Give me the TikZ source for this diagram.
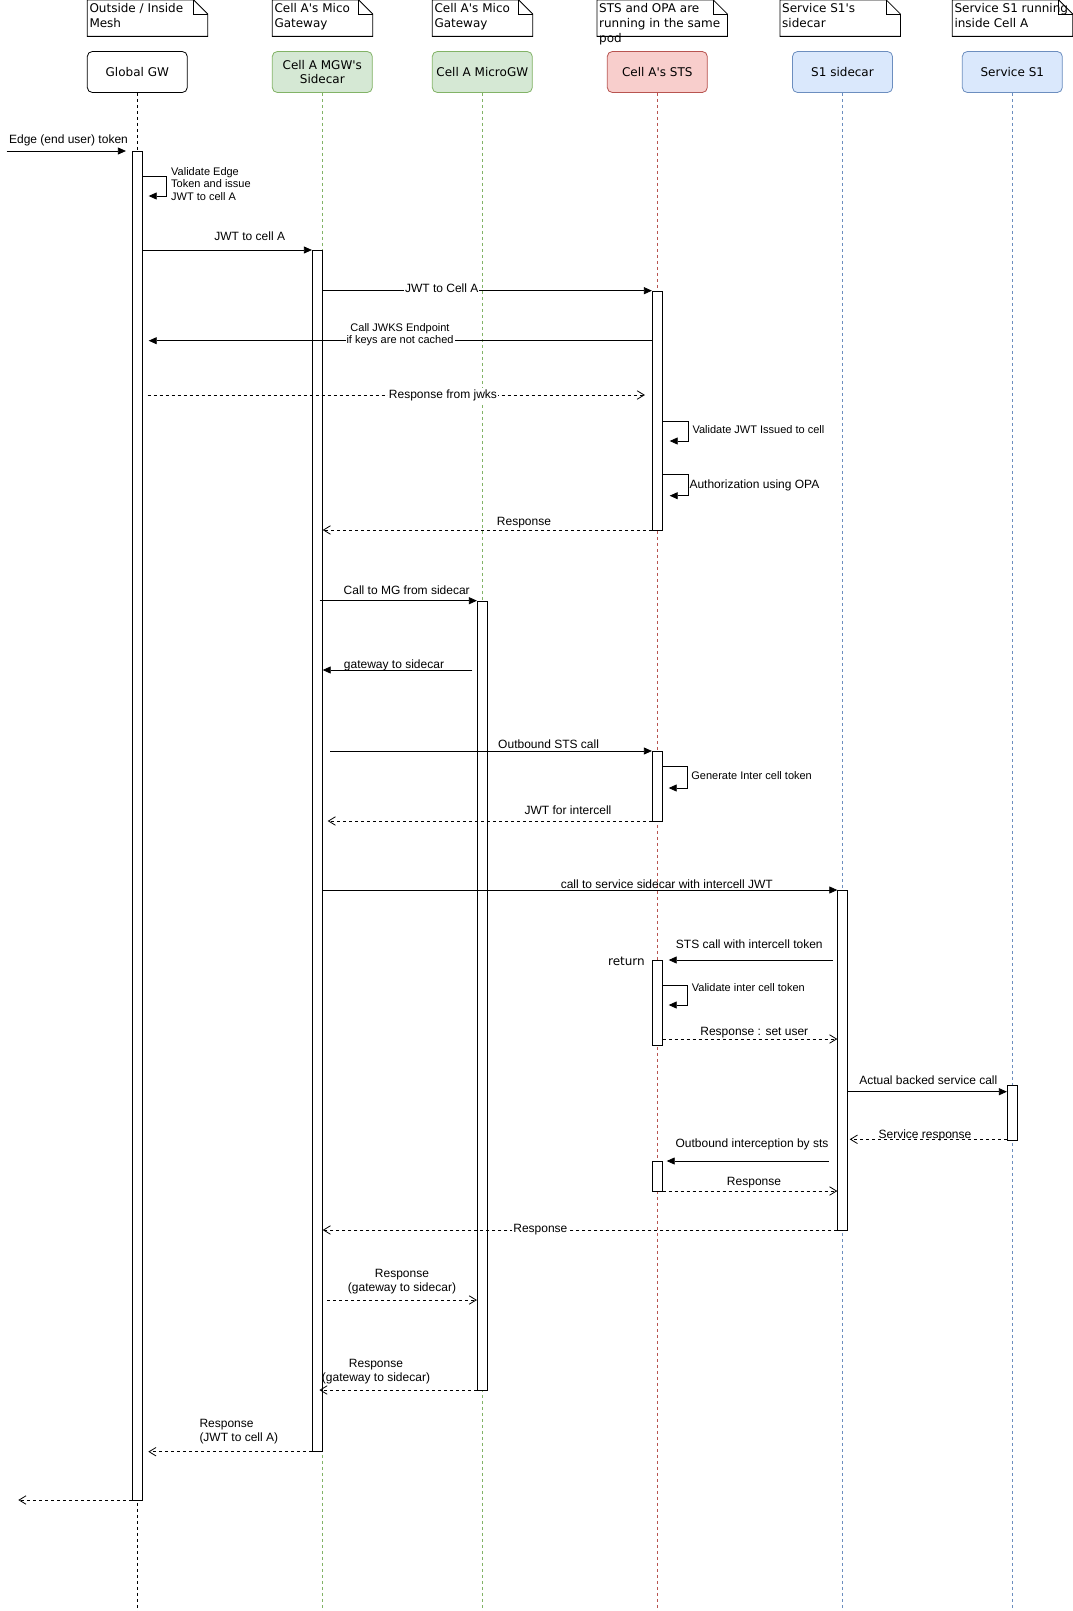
\documentclass[tikz,border=0pt]{standalone}
\usepackage{fontspec}
\setmainfont{Liberation Sans}
\newfontfamily\dvs{DejaVu Sans}[Ligatures=TeXOff]
\usetikzlibrary{arrows.meta}
\definecolor{gfill}{HTML}{D5E8D4}
\definecolor{gline}{HTML}{82B366}
\definecolor{rfill}{HTML}{F8CECC}
\definecolor{rline}{HTML}{B85450}
\definecolor{bfill}{HTML}{DAE8FC}
\definecolor{bline}{HTML}{6C8EBF}
\begin{document}
\begin{tikzpicture}[x=1pt,y=-1pt,
  lw/.style={line width=0.8pt},
  head/.style={draw, lw, rounded corners=5pt, minimum width=100pt, minimum height=41pt, inner sep=0pt, align=center, font=\dvs\fontsize{12}{14.5}\selectfont},
  notebg/.style={minimum width=#1, minimum height=36pt, inner sep=0pt, anchor=north west},
  noteline/.style={draw, lw},
  notetext/.style={anchor=north west, inner sep=0pt, align=left, font=\dvs\fontsize{12}{14.6}\selectfont},
  lline/.style={lw, dash pattern=on 3pt off 3pt},
  bar/.style={draw, lw, fill=white, minimum width=10pt, inner sep=0pt, anchor=north},
  msg/.style={draw, lw, -{Triangle[length=8pt,width=7pt]}},
  ret/.style={draw, lw, dash pattern=on 3pt off 3pt, -{Straight Barb[length=7pt,width=8.5pt]}},
  lbl/.style={inner sep=1pt, font=\fontsize{12}{14}\selectfont},
  lblw/.style={lbl, fill=white},
  lbls/.style={inner sep=0pt, align=left, font=\fontsize{11}{12.5}\selectfont},
  lblsw/.style={inner sep=1pt, align=center, fill=white, font=\fontsize{11}{12.7}\selectfont},
  ret2/.style={inner sep=0pt, align=center, font=\fontsize{12}{14}\selectfont},
  dv/.style={inner sep=0pt, font=\dvs\fontsize{12}{14.5}\selectfont}
]
\useasboundingbox (0,0) rectangle (1073,1611);
\fill[white] (0,0) rectangle (1073,1611);
\coordinate (bot) at (0,1611);

% notes
\foreach \nm/\xx/\ww/\txt in {n1/87.3/120/{Outside / Inside\\Mesh}, n2/272.3/100/{Cell A's Mico\\Gateway}, n3/432.3/100/{Cell A's Mico\\Gateway}, n4/597/130/{STS and OPA are\\running in the same\\pod}, n5/780/120/{Service S1's\\sidecar}, n6/952.3/120/{Service S1 running\\inside Cell A}}{
  \node[notebg=\ww pt] (\nm) at (\xx,0) {};
  \draw[noteline] (\nm.south west) -- (\nm.north west) -- ([xshift=-14pt]\nm.north east) -- ([yshift=-14pt]\nm.north east) -- (\nm.south east) -- cycle;
  \draw[noteline] ([xshift=-14pt]\nm.north east) -- ([xshift=-14pt,yshift=-14pt]\nm.north east) -- ([yshift=-14pt]\nm.north east);
  \node[notetext] (\nm t) at ([xshift=2pt,yshift=-3.6pt]\nm.north west) {\txt};
}

% heads
\node[head] (gw) at (137.3,72) {Global GW};
\node[head, fill=gfill, draw=gline] (mgw) at (322.3,72) {Cell A MGW's\\Sidecar};
\node[head, fill=gfill, draw=gline] (mcgw) at (482.3,72) {Cell A MicroGW};
\node[head, fill=rfill, draw=rline] (sts) at (657.3,72) {Cell A's STS};
\node[head, fill=bfill, draw=bline] (s1sc) at (842.5,72) {S1 sidecar};
\node[head, fill=bfill, draw=bline] (s1) at (1012.3,72) {Service S1};

% lifelines
\draw[lline] (gw.south) -- (gw.south |- bot);
\draw[lline, gline] (mgw.south) -- (mgw.south |- bot);
\draw[lline, gline] (mcgw.south) -- (mcgw.south |- bot);
\draw[lline, rline] (sts.south) -- (sts.south |- bot);
\draw[lline, bline] (s1sc.south) -- (s1sc.south |- bot);
\draw[lline, bline] (s1.south) -- (s1.south |- bot);

% activation bars
\node[bar, minimum height=1349pt] (bgw) at (137.3,151) {};
\node[bar, minimum height=1201pt] (bmgw) at (317.3,250) {};
\node[bar, minimum height=789.6pt] (bmc) at (482.3,600.7) {};
\node[bar, minimum height=239.3pt] (bsts1) at (657.3,290.7) {};
\node[bar, minimum height=70pt] (bsts2) at (657.3,751) {};
\node[bar, minimum height=85pt] (bsts3) at (657.3,960) {};
\node[bar, minimum height=30pt] (bsts4) at (657.3,1161) {};
\node[bar, minimum height=340pt] (bs1sc) at (842.7,890) {};
\node[bar, minimum height=55pt] (bs1) at (1012.3,1085) {};

% message levels
\coordinate (src) at (6.7,151);
\coordinate (exit) at (18.3,1500);
\coordinate (yA) at (0,151);
\coordinate (yB1) at (0,176);  \coordinate (yB2) at (0,196);
\coordinate (yC) at (0,250);
\coordinate (yD) at (0,290.7);
\coordinate (yE) at (0,340.7);
\coordinate (yF) at (0,395);
\coordinate (yG1) at (0,421);  \coordinate (yG2) at (0,441);
\coordinate (yH1) at (0,474.3); \coordinate (yH2) at (0,495.7);
\coordinate (yI) at (0,530);
\coordinate (yJ) at (0,600.7);
\coordinate (yK) at (0,670);
\coordinate (yL) at (0,751);
\coordinate (yM1) at (0,766);  \coordinate (yM2) at (0,788);
\coordinate (yN) at (0,821);
\coordinate (yO) at (0,890);
\coordinate (yP) at (0,960);
\coordinate (yQ1) at (0,985);  \coordinate (yQ2) at (0,1005);
\coordinate (yR) at (0,1039);
\coordinate (yS) at (0,1091.7);
\coordinate (yT) at (0,1139.3);
\coordinate (yU) at (0,1161);
\coordinate (yV) at (0,1191);
\coordinate (yW) at (0,1230);
\coordinate (yX) at (0,1300);
\coordinate (yY) at (0,1390);
\coordinate (yZ) at (0,1451.7);
\coordinate (yEnd) at (0,1500);

% messages
\draw[msg] (src) -- ([xshift=-6pt]bgw.west |- yA);
\draw[msg] (bgw.east |- yB1) -- ++(24,0) |- ([xshift=6pt]bgw.east |- yB2);
\draw[msg] (bgw.east |- yC) -- (bmgw.west |- yC);
\draw[msg] (bmgw.east |- yD) -- (bsts1.west |- yD);
\draw[msg] (bsts1.west |- yE) -- ([xshift=6pt]bgw.east |- yE);
\draw[ret] ([xshift=5pt]bgw.east |- yF) -- ([xshift=-7pt]bsts1.west |- yF);
\draw[msg] (bsts1.east |- yG1) -- ++(26,0) |- ([xshift=7pt]bsts1.east |- yG2);
\draw[msg] (bsts1.east |- yH1) -- ++(26,0) |- ([xshift=7pt]bsts1.east |- yH2);
\draw[ret] (bsts1.west |- yI) -- (bmgw.east |- yI);
\draw[msg] ([xshift=-3pt]bmgw.east |- yJ) -- (bmc.west |- yJ);
\draw[msg] ([xshift=-4.6pt]bmc.west |- yK) -- (bmgw.east |- yK);
\draw[msg] ([xshift=7.5pt]bmgw.east |- yL) -- (bsts2.west |- yL);
\draw[msg] (bsts2.east |- yM1) -- ++(25,0) |- ([xshift=6pt]bsts2.east |- yM2);
\draw[ret] (bsts2.west |- yN) -- ([xshift=5pt]bmgw.east |- yN);
\draw[msg] (bmgw.east |- yO) -- (bs1sc.west |- yO);
\draw[msg] ([xshift=-4.4pt]bs1sc.west |- yP) -- ([xshift=6pt]bsts3.east |- yP);
\draw[msg] (bsts3.east |- yQ1) -- ++(25,0) |- ([xshift=6pt]bsts3.east |- yQ2);
\draw[ret] (bsts3.east |- yR) -- (bs1sc.west |- yR);
\draw[msg] (bs1sc.east |- yS) -- (bs1.west |- yS);
\draw[ret] (bs1.west |- yT) -- ([xshift=1.6pt]bs1sc.east |- yT);
\draw[msg] ([xshift=-8.7pt]bs1sc.west |- yU) -- ([xshift=4pt]bsts4.east |- yU);
\draw[ret] (bsts4.east |- yV) -- (bs1sc.west |- yV);
\draw[ret] (bs1sc.west |- yW) -- (bmgw.east |- yW);
\draw[ret] ([xshift=4.4pt]bmgw.east |- yX) -- (bmc.west |- yX);
\draw[ret] (bmc.west |- yY) -- ([xshift=-3.3pt]bmgw.east |- yY);
\draw[ret] (bmgw.west |- yZ) -- ([xshift=5.6pt]bgw.east |- yZ);
\draw[ret] (bgw.west |- yEnd) -- (exit);

% labels
\node[lbl] (lA) at (68.5,140) {Edge (end user) token};
\node[lbls, anchor=west] (lB) at (171,184) {Validate Edge\\Token and issue\\JWT to cell A};
\node[lbl] (lC) at (249.7,236.3) {JWT to cell A};
\node[lblw] (lD) at (441.7,288) {JWT to Cell A};
\node[lblsw] (lE) at (400,334.7) {Call JWKS Endpoint\\if keys are not cached};
\node[lblw] (lF) at (443,395) {Response from jwks};
\node[lbls, anchor=west] (lG) at (692.3,429.3) {Validate JWT Issued to cell};
\node[lbl, anchor=west, inner sep=0pt] (lH) at (689.3,485) {Authorization using OPA};
\node[lbl] (lI) at (524,523) {Response};
\node[lbl] (lJ) at (406.7,590) {Call to MG from sidecar};
\node[lbl] (lK) at (394,665) {gateway to sidecar};
\node[lbl] (lL) at (548.6,744) {Outbound STS call};
\node[lbls, anchor=west] (lM) at (691.2,776) {Generate Inter cell token};
\node[lbl] (lN) at (568,810) {JWT for intercell};
\node[lbl] (lO) at (666.8,884.6) {call to service sidecar with intercell JWT};
\node[lbl] (lP) at (749.3,944.3) {STS call with intercell token};
\node[dv, anchor=east] (lret) at (645,961.7) {return};
\node[lbls, anchor=west] (lQ) at (691.7,987.3) {Validate inter cell token};
\node[lbl] (lR) at (754.3,1032.3) {Response : set user};
\node[lbl] (lS) at (928.3,1080) {Actual backed service call};
\node[lbl] (lT) at (925,1135) {Service response};
\node[lbl] (lU) at (752,1144.5) {Outbound interception by sts};
\node[lbl] (lV) at (754,1182.6) {Response};
\node[lblw] (lW) at (540.4,1229.8) {Response};
\node[ret2] (lX) at (402,1282) {Response\\(gateway to sidecar)};
\node[ret2] (lY) at (376,1371.7) {Response\\(gateway to sidecar)};
\node[ret2, align=left, anchor=west] (lZ) at (199.3,1432) {Response\\(JWT to cell A)};
\end{tikzpicture}
\end{document}
